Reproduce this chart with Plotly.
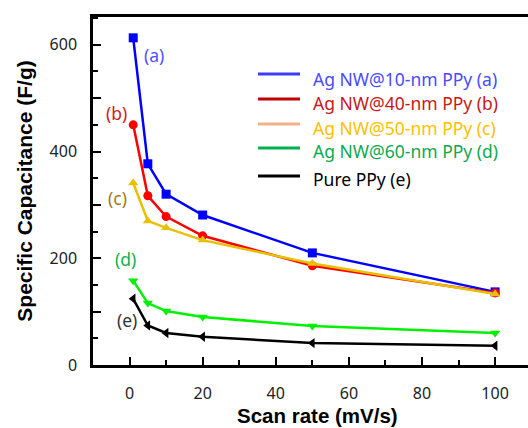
import plotly.graph_objects as go

scan_rate = [1, 5, 10, 20, 50, 100]
cap_a = [613, 377, 320, 281, 210, 137]
cap_b = [450, 317, 278, 242, 186, 135]
cap_c = [341, 270, 257, 234, 190, 133]
cap_d = [158, 116, 101, 90, 73, 60]
cap_e = [124, 74, 60, 53, 41, 36]

series = [
    ("Ag NW@10-nm PPy (a)", cap_a, "#0000ff", "square", "#3c3cff", "#4a4aff"),
    ("Ag NW@40-nm PPy (b)", cap_b, "#ff0000", "circle", "#c00000", "#c81818"),
    ("Ag NW@50-nm PPy (c)", cap_c, "#e8c000", "triangle-up", "#f4b183", "#ffc000"),
    ("Ag NW@60-nm PPy (d)", cap_d, "#00f000", "triangle-down", "#00b050", "#10a850"),
    ("Pure PPy (e)", cap_e, "#000000", "triangle-left", "#000000", "#000000"),
]

W, H = 528, 428
L, R, T, B = 93, 0, 17, 63

fig = go.Figure()
for name, vals, col, sym, lcol, tcol in series:
    fig.add_trace(go.Scatter(
        x=scan_rate, y=vals, mode="lines+markers", name=name, showlegend=False,
        line=dict(color=col, width=2.5),
        marker=dict(symbol=sym, size=9, color=col),
    ))

def px2paper(px, py):
    return (px - L) / (W - L - R), 1 - (py - T) / (H - T - B)

shapes = []
annotations = []
rows_line = [74, 99, 124, 148, 176]
rows_text = [79, 103, 128, 151, 179]
for (name, vals, col, sym, lcol, tcol), yl, yt in zip(series, rows_line, rows_text):
    x0, y0 = px2paper(258, yl)
    x1, _ = px2paper(300, yl)
    shapes.append(dict(type="line", xref="paper", yref="paper", x0=x0, x1=x1, y0=y0, y1=y0,
                       line=dict(color=lcol, width=3)))
    tx, ty = px2paper(311, yt)
    annotations.append(dict(xref="paper", yref="paper", x=tx, y=ty, text=name, showarrow=False,
                            xanchor="left", yanchor="middle",
                            font=dict(family="Noto Sans", size=17.5, color=tcol)))

labels = [("(a)", 6.8, 580, "#5050ff"), ("(b)", -3.6, 473, "#d02020"),
          ("(c)", -3.3, 313, "#9b7a1b"), ("(d)", -1.1, 199, "#10b050"),
          ("(e)", -0.8, 84, "#333333")]
for t, x, y, c in labels:
    annotations.append(dict(x=x, y=y, text=t, showarrow=False, xanchor="center", yanchor="middle",
                            font=dict(family="Noto Sans", size=17.5, color=c)))

# x-axis title placed as an annotation below the tick labels
tx, ty = px2paper(317, 415)
annotations.append(dict(xref="paper", yref="paper", x=tx, y=ty, text="<b>Scan rate (mV/s)</b>",
                        showarrow=False, xanchor="center", yanchor="middle",
                        font=dict(family="Liberation Sans", size=20.5, color="black")))

fig.update_layout(
    width=W, height=H, margin=dict(l=L, r=R, t=T, b=B, pad=0),
    paper_bgcolor="white", plot_bgcolor="white",
    shapes=shapes, annotations=annotations,
    xaxis=dict(range=[-10, 109], tickvals=[0, 20, 40, 60, 80, 100], ticks="inside", ticklen=8,
               tickwidth=2, tickcolor="black", showline=True, linecolor="black", linewidth=2.5,
               mirror=True, showgrid=False, zeroline=False, ticklabelstandoff=12, automargin=False,
               minor=dict(dtick=10, tick0=0, ticks="inside", ticklen=5, tickwidth=2, tickcolor="black"),
               tickfont=dict(family="Noto Sans", size=16, color="#222")),
    yaxis=dict(range=[0, 652], tickvals=[0, 100, 200, 300, 400, 500, 600],
               ticktext=["0", "", "200", "", "400", "", "600"],
               ticks="inside", ticklen=8, tickwidth=2, tickcolor="black",
               showline=True, linecolor="black", linewidth=2.5, showgrid=False, zeroline=False,
               ticklabelstandoff=10, automargin=False,
               minor=dict(dtick=50, tick0=0, ticks="inside", ticklen=5, tickwidth=2, tickcolor="black"),
               tickfont=dict(family="Noto Sans", size=16, color="#222"),
               title=dict(text="<b>Specific Capacitance (F/g)</b>", standoff=12,
                          font=dict(family="Liberation Sans", size=21, color="black"))),
)

fig.write_html("out.html")
